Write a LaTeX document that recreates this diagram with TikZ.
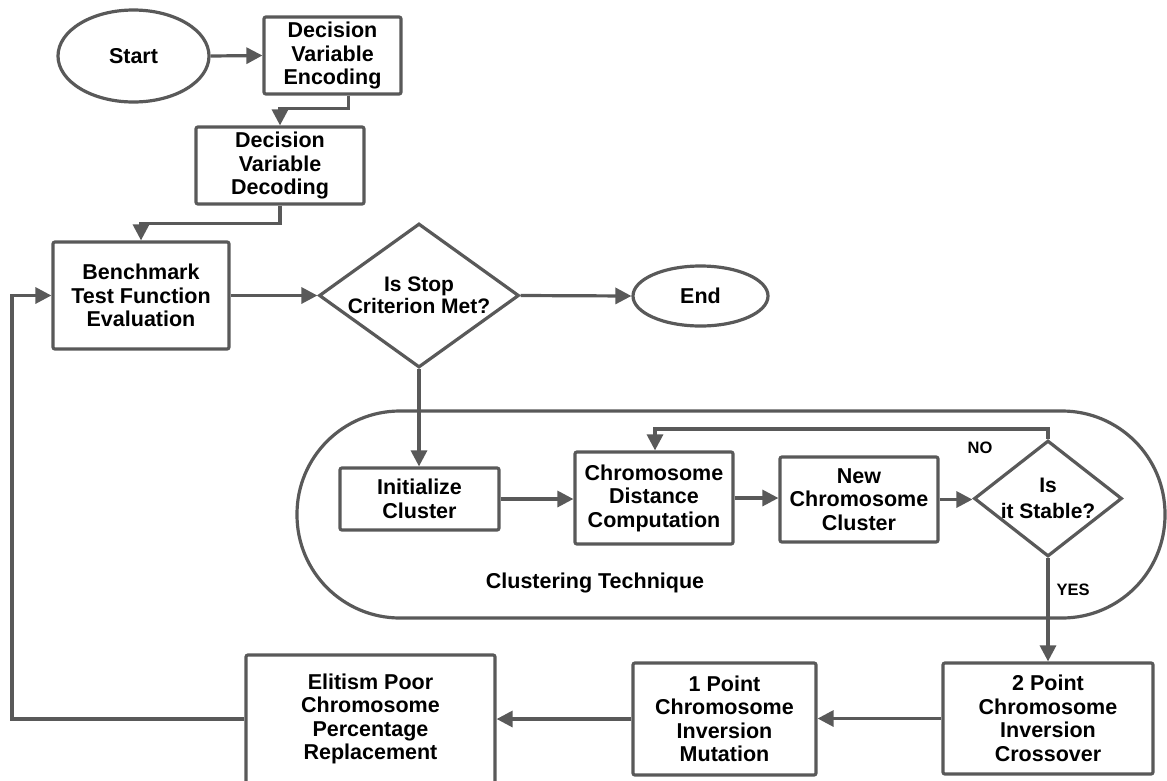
\documentclass[tikz,border=0pt]{standalone}
\usepackage{fontspec}
\setmainfont{Liberation Sans}
\usetikzlibrary{shapes.geometric,arrows.meta}
\definecolor{lc}{HTML}{595959}
\tikzset{
  base/.style={draw=lc, line width=3.2pt, fill=white, inner sep=0pt, align=center,
    font=\bfseries\fontsize{21.5}{23.5}\selectfont, text=black},
  box/.style={base, rectangle, rounded corners=2pt},
  oval/.style={base, ellipse},
  diam/.style={base, diamond},
  arr/.style={draw=lc, line width=3.2pt, -{Triangle[length=16pt,width=16pt]}},
  ln/.style={draw=lc, line width=3.2pt},
  lbl/.style={font=\bfseries\fontsize{16.5}{19}\selectfont, text=black},
}
\begin{document}
\begin{tikzpicture}[x=1pt,y=-1pt]
\useasboundingbox (0,0) rectangle (1167,780);
% clustering region
\draw[ln, rounded corners=103pt] (297,411) rectangle (1165,618);
\node[lbl, font=\bfseries\fontsize{21.5}{23}\selectfont] (ct) at (595,583) {Clustering Technique};

\node[oval, minimum width=151pt, minimum height=92pt] (start) at (133.5,56) {Start};
\node[box, minimum width=137pt, minimum height=77pt] (enc) at (332.5,55.5) {Decision\\Variable\\Encoding};
\node[box, minimum width=168pt, minimum height=77pt] (dec) at (280,165.5) {Decision\\Variable\\Decoding};
\node[box, minimum width=176pt, minimum height=107pt] (bench) at (141,295.5) {Benchmark\\Test Function\\Evaluation};
\node[diam, minimum width=200pt, minimum height=144pt,
  label={[align=center, font=\bfseries\fontsize{21}{22.5}\selectfont]center:Is Stop\\Criterion Met?}] (d1) at (419,295.5) {};
\node[oval, minimum width=135pt, minimum height=60pt] (end) at (700.5,296) {End};
\node[box, minimum width=159pt, minimum height=62pt] (init) at (419.5,499) {Initialize\\Cluster};
\node[box, minimum width=158pt, minimum height=92pt] (cdc) at (654,498) {Chromosome\\Distance\\Computation};
\node[box, minimum width=158pt, minimum height=85pt] (ncc) at (859,499.5) {New\\Chromosome\\Cluster};
\node[diam, minimum width=148pt, minimum height=116pt,
  label={[align=center, font=\bfseries\fontsize{21}{26}\selectfont]center:Is\\it Stable?}] (d2) at (1048,498.5) {};
\node[box, minimum width=210pt, minimum height=111pt] (cross) at (1048,718.5) {2 Point\\Chromosome\\Inversion\\Crossover};
\node[box, minimum width=183pt, minimum height=112pt] (mut) at (724.5,719) {1 Point\\Chromosome\\Inversion\\Mutation};
\node[box, minimum width=249pt, minimum height=128pt] (elit) at (370.5,719) {Elitism Poor\\Chromosome\\Percentage\\Replacement};

\node[lbl] (no) at (980,448) {NO};
\node[lbl] (yes) at (1073,590) {YES};

\draw[arr] (start.east) -- (enc.west);
\draw[arr] ([xshift=16pt]enc.south) -- ++(0,13) -| (dec.north);
\draw[arr] (dec.south) -- ++(0,18) -| (bench.north);
\draw[arr] (bench.east) -- (d1.west);
\draw[arr] (d1.east) -- (end.west);
\draw[arr] (d1.south) -- (d1.south |- init.north);
\draw[arr] (init.east) -- (init.east -| cdc.west);
\draw[arr] (cdc.east) -- (cdc.east -| ncc.west);
\draw[arr] (ncc.east) -- (ncc.east -| d2.west);
\draw[arr] (d2.north) -- ++(0,-10) -| ([xshift=1pt]cdc.north);
\draw[arr] (d2.south) -- (cross.north);
\draw[arr] (cross.west) -- (cross.west -| mut.east);
\draw[arr] (mut.west) -- (elit.east);
\coordinate (fb) at (12,719);
\draw[arr] (elit.west) -- (fb) |- (bench.west);
\end{tikzpicture}
\end{document}
